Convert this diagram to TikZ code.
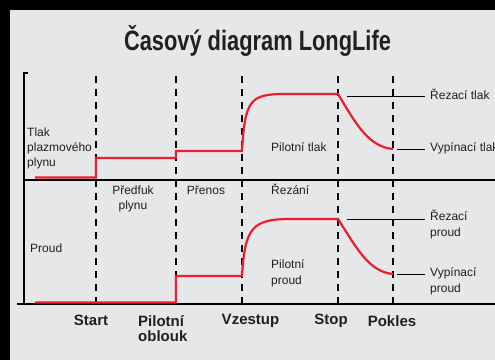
\documentclass[tikz,border=0pt]{standalone}
\usepackage{fontspec}
\setmainfont{Liberation Sans}
\newfontfamily\titlefont[FakeStretch=0.78]{Liberation Sans}

\definecolor{panel}{RGB}{230,231,232}
\definecolor{signalred}{RGB}{237,28,46}
\definecolor{ink}{RGB}{35,31,32}

\tikzset{
	axis/.style={line width=1.2pt, black},
	phase/.style={line width=1.2pt, black, dash pattern=on 7pt off 6pt},
	signal/.style={line width=2.2pt, signalred},
	leader/.style={line width=1pt, black},
	lbl/.style={font=\fontsize{12}{15.5}\selectfont, text=ink, inner sep=0pt, align=left, anchor=base west},
	tag/.style={lbl, inner xsep=5pt},
	event/.style={font=\bfseries\fontsize{15}{15.7}\selectfont, text=ink, inner sep=0pt, anchor=base},
}

\begin{document}
\begin{tikzpicture}[x=1pt,y=-1pt]
	% frame
	\fill[black] (0,0) rectangle (495,360);
	\fill[panel] (10,10) rectangle (495,360);
	\useasboundingbox (0,0) rectangle (495,360);
	
	% title
	\node[font=\titlefont\bfseries\fontsize{28}{30}\selectfont, text=ink, anchor=base] (title) at (257.5,50) {Časový diagram LongLife};
	
	% axes
	\draw[axis] (28,73) -- (24,73) -- (24,304);
	\draw[axis] (24,180) -- (495,180);
	\draw[axis] (17,304) -- (495,304);
	
	% phase borders
	\foreach \x/\name in {96/start,176/pilot,242/rise,338/stop,393/fall}
	\draw[phase] (\x,76) coordinate (\name) -- (\x,304);
	
	% events (multi-line nodes sit on their last line)
	\node[event] (evstart) at (91,325) {Start};
	\node[event, anchor=base west, align=left] (evpilot) at (138,341.7) {Pilotní\\oblouk};
	\node[event] (evrise) at (250.5,324.5) {Vzestup};
	\node[event] (evstop) at (331,324) {Stop};
	\node[event] (evfall) at (392,326) {Pokles};
	
	% gas pressure
	\draw[signal] (35,177.5) -- (96,177.5) -- (96,158) -- (176,158) -- (176,151) -- (242,151)
		.. controls (245,100) and (250,94) .. (285,94) -- (338,94)
		.. controls (355,122) and (368,147) .. (393,149);
	
	% current
	\draw[signal] (35,302.5) -- (176,302.5) -- (176,276) -- (242,276)
		.. controls (245,228) and (252,219) .. (290,219) -- (338,219)
		.. controls (355,245) and (368,272) .. (393,274);
	
	% phase labels
	\node[lbl, font=\fontsize{12}{15}\selectfont] (gas) at (27,166.7) {Tlak\\plazmového\\plynu};
	\node[lbl, align=center, anchor=base] (preflow) at (133,209.5) {Předfuk\\plynu};
	\node[lbl, anchor=base] (transfer) at (206,194) {Přenos};
	\node[lbl] (cutting) at (271,194) {Řezání};
	\node[lbl] (pilotp) at (271,151.7) {Pilotní tlak};
	\node[lbl] (current) at (30,252) {Proud};
	\node[lbl, font=\fontsize{12}{16}\selectfont] (pilotc) at (271,284.3) {Pilotní\\proud};
	
	% level labels
	\node[tag] (cutp) at (425,99.3) {Řezací tlak};
	\node[tag] (offp) at (425,151.7) {Vypínací tlak};
	\node[tag, font=\fontsize{12}{16}\selectfont] (cutc) at (425,236.7) {Řezací\\proud};
	\node[tag, font=\fontsize{12}{16}\selectfont] (offc) at (425,292.7) {Vypínací\\proud};
	
	% leaders
	\coordinate (cutpA) at (347,96);
	\coordinate (offpA) at (397,149);
	\coordinate (cutcA) at (347,219);
	\coordinate (offcA) at (397,274);
	\foreach \a/\b in {cutpA/cutp, offpA/offp, cutcA/cutc, offcA/offc}
	\draw[leader] (\a) -- (\a -| \b.west);
	
\end{tikzpicture}
\end{document}
